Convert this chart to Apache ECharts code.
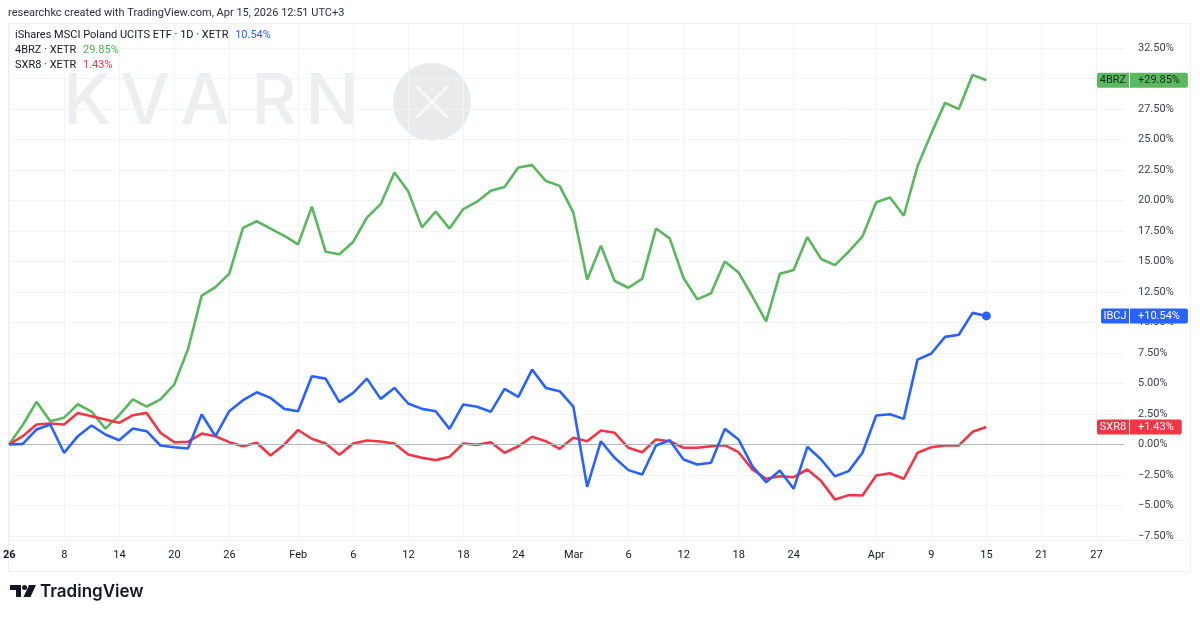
<!DOCTYPE html>
<html>
<head>
<meta charset="utf-8">
<title>IBCJ vs 4BRZ vs SXR8</title>
<script src="https://cdn.jsdelivr.net/npm/echarts@6.0.0/dist/echarts.min.js"></script>
<style>
  html, body { margin: 0; padding: 0; background: #fff; }
  #chart { width: 1200px; height: 618px; }
</style>
</head>
<body>
<div id="chart"></div>
<script>
// XETR trading days 2026 (Good Friday / Easter Monday closed); last ten are empty future slots
const dates = [
  '01-02', '01-05', '01-06', '01-07', '01-08', '01-09', '01-12', '01-13', '01-14', '01-15', '01-16',
  '01-19', '01-20', '01-21', '01-22', '01-23', '01-26', '01-27', '01-28', '01-29', '01-30',
  '02-02', '02-03', '02-04', '02-05', '02-06', '02-09', '02-10', '02-11', '02-12', '02-13',
  '02-16', '02-17', '02-18', '02-19', '02-20', '02-23', '02-24', '02-25', '02-26', '02-27',
  '03-02', '03-03', '03-04', '03-05', '03-06', '03-09', '03-10', '03-11', '03-12', '03-13',
  '03-16', '03-17', '03-18', '03-19', '03-20', '03-23', '03-24', '03-25', '03-26', '03-27',
  '03-30', '03-31', '04-01', '04-02', '04-07', '04-08', '04-09', '04-10', '04-13', '04-14', '04-15',
  '04-16', '04-17', '04-20', '04-21', '04-22', '04-23', '04-24', '04-27', '04-28', '04-29'
];

// time scale labels
const tickLabels = {
  '01-02': '26', '01-08': '8', '01-14': '14', '01-20': '20', '01-26': '26',
  '02-02': 'Feb', '02-06': '6', '02-12': '12', '02-18': '18', '02-24': '24',
  '03-02': 'Mar', '03-06': '6', '03-12': '12', '03-18': '18', '03-24': '24',
  '04-01': 'Apr', '04-09': '9', '04-15': '15', '04-21': '21', '04-27': '27'
};

// % change since first bar
const ibcj = [
  0, 0.05, 1.23, 1.64, -0.68, 0.68, 1.56, 0.82, 0.35, 1.31, 1.09,
  -0.08, -0.22, -0.33, 2.46, 0.68, 2.73, 3.63, 4.28, 3.82, 2.92,
  2.73, 5.6, 5.4, 3.47, 4.23, 5.4, 3.74, 4.64, 3.36, 2.92,
  2.73, 1.28, 3.28, 3.09, 2.68, 4.56, 3.9, 6.14, 4.64, 4.37,
  3.1, -3.47, 0.27, -1.09, -2.1, -2.46, -0.08, 0.35, -1.23, -1.64,
  -1.5, 1.28, 0.41, -1.78, -3.09, -2.13, -3.63, -0.19, -1.23, -2.6,
  -2.18, -0.68, 2.38, 2.48, 2.1, 6.96, 7.46, 8.82, 9.0, 10.79, 10.54
];
const brz = [
  0, 1.6, 3.5, 1.9, 2.2, 3.3, 2.7, 1.3, 2.4, 3.7, 3.1,
  3.7, 4.9, 7.8, 12.2, 12.9, 14.0, 17.75, 18.3, 17.7, 17.1,
  16.4, 19.5, 15.8, 15.6, 16.6, 18.6, 19.7, 22.3, 20.75, 17.8,
  19.1, 17.7, 19.3, 19.9, 20.8, 21.1, 22.7, 22.9, 21.6, 21.2,
  19.0, 13.5, 16.3, 13.4, 12.85, 13.6, 17.7, 16.9, 13.65, 11.9,
  12.4, 15.0, 14.1, 12.15, 10.1, 14.0, 14.3, 17.0, 15.2, 14.7,
  15.8, 17.05, 19.85, 20.25, 18.75, 22.8, 25.5, 28.0, 27.5, 30.3, 29.85
];
const sxr8 = [
  0, 0.68, 1.64, 1.72, 1.64, 2.59, 2.32, 2.05, 1.78, 2.4, 2.59,
  0.96, 0.19, 0.22, 0.9, 0.68, 0.19, -0.14, 0.14, -0.9, 0,
  1.19, 0.47, 0.08, -0.85, 0.08, 0.33, 0.25, 0.08, -0.82, -1.09,
  -1.28, -1.01, 0.08, -0.03, 0.19, -0.68, -0.14, 0.63, 0.27, -0.35,
  0.55, 0.27, 1.15, 0.96, -0.27, -0.63, 0.41, 0.27, -0.27, -0.27,
  -0.14, -0.05, -0.63, -2.05, -2.81, -2.6, -2.68, -2.05, -3.0, -4.5,
  -4.15, -4.18, -2.54, -2.36, -2.81, -0.68, -0.22, -0.08, -0.08, 1.04, 1.43
];

const BLUE = '#2962FF', GREEN = '#5BB65F', RED = '#F23645';
const FONT = 'Roboto, "Noto Sans", sans-serif';
const last = ibcj.length - 1;

const fmtPct = v => (v < 0 ? '\u2212' : '') + Math.abs(v).toFixed(2) + '%';
const signed = v => (v >= 0 ? '+' : '\u2212') + Math.abs(v).toFixed(2) + '%';
const isTick = (i, val) => tickLabels[val] !== undefined;

// price-scale tag: name part sits in the pane, value part on the scale
function tag(name, value, bg, fg, nameW) {
  return {
    yAxis: value,
    lineStyle: { color: 'rgba(0,0,0,0)', width: 1 },
    label: {
      show: true,
      position: 'end',
      distance: 6 - nameW,
      formatter: '{n|' + name + '}{s|}{v|' + signed(value) + '}',
      rich: {
        n: { backgroundColor: bg, color: fg, fontFamily: FONT, fontSize: 11, width: nameW - 1, height: 15, align: 'center', borderRadius: [2, 0, 0, 2] },
        s: { backgroundColor: 'rgba(255,255,255,0.45)', width: 1, height: 15 },
        v: { backgroundColor: bg, color: fg, fontFamily: FONT, fontSize: 11, height: 15, padding: [0, 8, 0, 8], borderRadius: [0, 2, 2, 0] }
      }
    }
  };
}

const chart = echarts.init(document.getElementById('chart'));

chart.setOption({
  animation: false,
  backgroundColor: '#ffffff',
  grid: [
    { left: 9, right: 76, top: 48, bottom: 82 },
    { left: 9, right: 76, top: 23, bottom: 78 }
  ],
  xAxis: [
    {
      type: 'category', gridIndex: 0, data: dates, boundaryGap: false,
      axisLine: { show: false }, axisTick: { show: false }, axisLabel: { show: false }, splitLine: { show: false }
    },
    {
      type: 'category', gridIndex: 1, data: dates, boundaryGap: false,
      axisLine: { show: false }, axisTick: { show: false },
      splitLine: { show: true, interval: isTick, lineStyle: { color: '#f2f3f5', width: 1 } },
      axisLabel: {
        interval: isTick, margin: 10, hideOverlap: false,
        color: '#131722', fontFamily: FONT, fontSize: 11,
        formatter: v => v === dates[0] ? '{b|' + tickLabels[v] + '}' : tickLabels[v],
        rich: { b: { fontWeight: 'bold', color: '#131722', fontFamily: FONT, fontSize: 11 } }
      }
    }
  ],
  yAxis: [
    {
      type: 'value', gridIndex: 0, position: 'right', min: -7.5, max: 32.5, interval: 2.5,
      axisLine: { show: false }, axisTick: { show: false },
      splitLine: { lineStyle: { color: '#f2f3f5', width: 1 } },
      axisLabel: { margin: 14, color: '#3b3f47', fontFamily: FONT, fontSize: 11, formatter: fmtPct }
    },
    { type: 'value', gridIndex: 1, show: false }
  ],
  graphic: [
    // watermark
    ...['K', 'V', 'A', 'R', 'N'].map((ch, k) => ({
      type: 'text', z: 0, silent: true,
      style: { text: ch, x: [87, 145, 205, 274, 332][k], y: 103, textAlign: 'center', textVerticalAlign: 'middle',
        font: '500 70px Inter, sans-serif', fill: '#eceef0' }
    })),
    { type: 'circle', z: 0, silent: true, shape: { cx: 432, cy: 102, r: 39 }, style: { fill: '#e8eaec' } },
    { type: 'line', z: 0, silent: true, shape: { x1: 416, y1: 86, x2: 448, y2: 118 }, style: { stroke: '#f7f8f9', lineWidth: 3 } },
    { type: 'line', z: 0, silent: true, shape: { x1: 448, y1: 86, x2: 416, y2: 118 }, style: { stroke: '#f7f8f9', lineWidth: 3 } },
    // pane frame
    { type: 'rect', z: 0, silent: true, shape: { x: 8.5, y: 23.5, width: 1182, height: 548 }, style: { fill: 'none', stroke: '#eef0f3', lineWidth: 1 } },
    { type: 'line', z: 0, silent: true, shape: { x1: 8.5, y1: 540.5, x2: 1190.5, y2: 540.5 }, style: { stroke: '#f2f3f5', lineWidth: 1 } },
    // header
    {
      type: 'text', z: 10,
      style: { text: 'researchkc created with TradingView.com, Apr 15, 2026 12:51 UTC+3', x: 8, y: 13,
        textVerticalAlign: 'middle', font: '11px Roboto, sans-serif', fill: '#2a2e39' }
    },
    {
      type: 'text', z: 10,
      style: {
        text: '{a|iShares MSCI Poland UCITS ETF \u00b7 1D \u00b7 XETR}  {b|' + ibcj[last].toFixed(2) + '%}',
        x: 15, y: 35, textVerticalAlign: 'middle',
        rich: { a: { fill: '#131722', font: '11px Roboto, sans-serif' }, b: { fill: BLUE, font: '11px Roboto, sans-serif' } }
      }
    },
    {
      type: 'text', z: 10,
      style: {
        text: '{a|4BRZ \u00b7 XETR}  {b|' + brz[last].toFixed(2) + '%}',
        x: 15, y: 50, textVerticalAlign: 'middle',
        rich: { a: { fill: '#131722', font: '11px Roboto, sans-serif' }, b: { fill: '#4CAF50', font: '11px Roboto, sans-serif' } }
      }
    },
    {
      type: 'text', z: 10,
      style: {
        text: '{a|SXR8 \u00b7 XETR}  {b|' + sxr8[last].toFixed(2) + '%}',
        x: 15, y: 65, textVerticalAlign: 'middle',
        rich: { a: { fill: '#131722', font: '11px Roboto, sans-serif' }, b: { fill: RED, font: '11px Roboto, sans-serif' } }
      }
    },
    // TradingView logo
    { type: 'polygon', shape: { points: [[10, 585], [21, 585], [21, 597], [16, 597], [16, 590], [10, 590]] }, style: { fill: '#131722' } },
    { type: 'circle', shape: { cx: 24.5, cy: 587.5, r: 2.5 }, style: { fill: '#131722' } },
    { type: 'polygon', shape: { points: [[29, 585], [36, 585], [30.5, 597], [23.5, 597]] }, style: { fill: '#131722' } },
    {
      type: 'text',
      style: { text: 'TradingView', x: 40, y: 592, textVerticalAlign: 'middle', font: '600 17px Inter, sans-serif', fill: '#131722' }
    }
  ],
  series: [
    {
      name: '4BRZ', type: 'line', xAxisIndex: 0, yAxisIndex: 0, data: brz,
      showSymbol: false, lineStyle: { color: GREEN, width: 2.6 }, itemStyle: { color: GREEN }, z: 3,
      markLine: { silent: true, symbol: 'none', animation: false, data: [tag('4BRZ', brz[last], '#5CB860', '#10301a', 33)] }
    },
    {
      name: 'SXR8', type: 'line', xAxisIndex: 0, yAxisIndex: 0, data: sxr8,
      showSymbol: false, lineStyle: { color: RED, width: 2.6 }, itemStyle: { color: RED }, z: 4,
      markLine: {
        silent: true, symbol: 'none', animation: false,
        data: [
          { yAxis: 0, lineStyle: { color: '#b4b7bd', width: 1, type: 'solid' }, label: { show: false } },
          tag('SXR8', sxr8[last], RED, '#ffffff', 33)
        ]
      }
    },
    {
      name: 'IBCJ', type: 'line', xAxisIndex: 0, yAxisIndex: 0, data: ibcj,
      showSymbol: false, lineStyle: { color: BLUE, width: 2.6 }, itemStyle: { color: BLUE }, z: 5,
      markPoint: {
        silent: true, animation: false,
        data: [{ coord: [dates[last], ibcj[last]], symbol: 'circle', symbolSize: 9, itemStyle: { color: BLUE }, label: { show: false } }]
      },
      markLine: { silent: true, symbol: 'none', animation: false, data: [tag('IBCJ', ibcj[last], BLUE, '#ffffff', 29)] }
    }
  ]
});
</script>
</body>
</html>
